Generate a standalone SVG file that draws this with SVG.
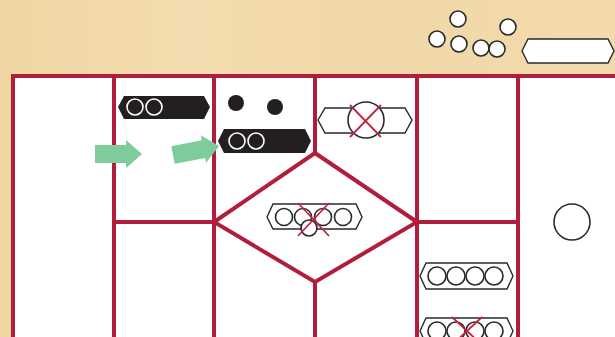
<svg xmlns="http://www.w3.org/2000/svg" width="615" height="337" viewBox="0 0 615 337">
<defs>
<linearGradient id="bg" x1="0" y1="0" x2="1" y2="0">
<stop offset="0" stop-color="#f0d6a4"/>
<stop offset="0.3" stop-color="#f3dcaf"/>
<stop offset="0.6" stop-color="#f1d8a8"/>
<stop offset="1" stop-color="#f2daab"/>
</linearGradient>
</defs>
<style>
.frame{stroke:#b21d3b;stroke-width:4;fill:none;stroke-linejoin:miter}
.hexw{fill:#fff;stroke:#2a2a2a;stroke-width:1.4}
.hexb{fill:#231f20;stroke:none}
.cw{fill:none;stroke:#fff;stroke-width:1.6}
.cd{fill:#fff;stroke:#2a2a2a;stroke-width:1.6}
.x{stroke:#c0243f;stroke-width:1.8;fill:none}
.arrow{fill:#7ecb9b}
.dot{fill:#231f20}
</style>
<rect x="0" y="0" width="615" height="337" fill="url(#bg)"/>
<rect x="13" y="76" width="602" height="261" fill="#fff"/>

<g id="connectors">
<path class="frame" d="M11 76 H615 M13 76 V337 M114 76 V337 M214 76 V337 M417 76 V337 M518 76 V337 M315 76 V153 M315 282 V337 M114 222 H214 M417 222 H518"/>
<path class="frame" d="M214 222 L315 153 L417 222 L315 282 Z"/>
</g>

<g id="top-tokens">
<circle class="cd" cx="458" cy="19" r="8"/>
<circle class="cd" cx="437" cy="39" r="8"/>
<circle class="cd" cx="459" cy="44" r="8"/>
<circle class="cd" cx="481" cy="48" r="8"/>
<circle class="cd" cx="497" cy="49" r="8"/>
<circle class="cd" cx="508" cy="27" r="8"/>
<polygon class="hexw" points="522,51 528,39 608,39 614,51 608,63 528,63"/>
</g>

<g id="hex-black-1">
<polygon class="hexb" points="118,107 124,96 204,96 210,107 204,119 124,119"/>
<circle class="cw" cx="135" cy="107" r="8"/>
<circle class="cw" cx="154" cy="107" r="8"/>
</g>

<g id="dots">
<circle class="dot" cx="236" cy="103" r="8"/>
<circle class="dot" cx="275" cy="107" r="8"/>
</g>

<g id="hex-black-2">
<polygon class="hexb" points="218,141 224,129 305,129 311,141 305,153 224,153"/>
<circle class="cw" cx="237" cy="141" r="8"/>
<circle class="cw" cx="256" cy="141" r="8"/>
</g>

<g id="arrow-1">
<polygon class="arrow" points="95,145 126,145 126,140 142,154 126,168 126,163 95,163"/>
</g>
<g id="arrow-2">
<polygon class="arrow" transform="translate(173,155) rotate(-11)" points="0,-9 31,-9 31,-14 47,0 31,14 31,9 0,9"/>
</g>

<g id="hex-crossed">
<polygon class="hexw" points="318,120 325,108 405,108 412,120 405,133 325,133"/>
<circle class="cd" cx="366" cy="120" r="18"/>
<path class="x" d="M350 105 L381 137 M381 105 L350 137"/>
</g>

<g id="hex-diamond">
<polygon class="hexw" points="267,217 273,204 356,204 362,217 356,229 273,229"/>
<circle class="cd" cx="284" cy="217" r="8.5" fill="none"/>
<circle class="cd" cx="303" cy="217" r="8.5"/>
<circle class="cd" cx="323" cy="217" r="8.5"/>
<circle class="cd" cx="343" cy="217" r="8.5"/>
<circle class="cd" cx="309" cy="228" r="8"/>
<path class="x" d="M298 203 L329 236 M329 203 L298 236"/>
</g>

<g id="circle-right">
<circle class="cd" cx="572" cy="222" r="18"/>
</g>

<g id="hex-four">
<polygon class="hexw" points="420,276 426,263 507,263 513,276 507,289 426,289"/>
<circle class="cd" cx="437" cy="276" r="9"/>
<circle class="cd" cx="456" cy="276" r="9"/>
<circle class="cd" cx="475" cy="276" r="9"/>
<circle class="cd" cx="494" cy="276" r="9"/>
</g>

<g id="hex-four-crossed">
<polygon class="hexw" points="420,331 426,318 507,318 513,331 507,344 426,344"/>
<circle class="cd" cx="437" cy="331" r="9"/>
<circle class="cd" cx="456" cy="331" r="9"/>
<circle class="cd" cx="475" cy="331" r="9"/>
<circle class="cd" cx="494" cy="331" r="9"/>
<path class="x" d="M452 317 L482 345 M482 317 L452 345"/>
</g>
</svg>
